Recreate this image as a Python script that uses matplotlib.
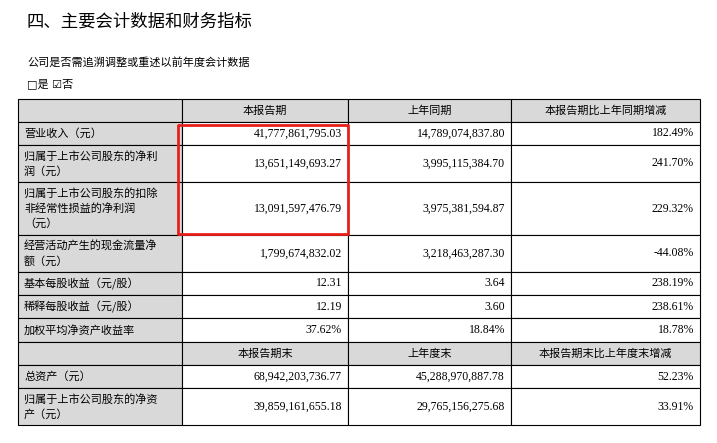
import matplotlib.pyplot as plt
from matplotlib.patches import Rectangle

plt.rcParams['font.family'] = ['Noto Sans CJK SC', 'DejaVu Sans']

title = '四、主要会计数据和财务指标'
subtitle = '公司是否需追溯调整或重述以前年度会计数据'
choice = '□是 ☑否'

header1 = ['', '本报告期', '上年同期', '本报告期比上年同期增减']
header2 = ['', '本报告期末', '上年度末', '本报告期末比上年度末增减']
labels1 = ['营业收入（元）', '归属于上市公司股东的净利\n润（元）',
           '归属于上市公司股东的扣除\n非经常性损益的净利润\n（元）',
           '经营活动产生的现金流量净\n额（元）', '基本每股收益（元/股）',
           '稀释每股收益（元/股）', '加权平均净资产收益率']
current1 = ['41,777,861,795.03', '13,651,149,693.27', '13,091,597,476.79',
            '1,799,674,832.02', '12.31', '12.19', '37.62%']
prior1 = ['14,789,074,837.80', '3,995,115,384.70', '3,975,381,594.87',
          '3,218,463,287.30', '3.64', '3.60', '18.84%']
change1 = ['182.49%', '241.70%', '229.32%', '-44.08%', '238.19%', '238.61%', '18.78%']
labels2 = ['总资产（元）', '归属于上市公司股东的净资\n产（元）']
current2 = ['68,942,203,736.77', '39,859,161,655.18']
prior2 = ['45,288,970,887.78', '29,765,156,275.68']
change2 = ['52.23%', '33.91%']

cols = [18, 182, 348, 511, 700]
row_edges = [99, 122, 145, 182, 235, 272, 295, 318, 342, 365, 388, 425]

fig = plt.figure(figsize=(7.17, 4.43), dpi=100)
ax = fig.add_axes([0, 0, 1, 1])
ax.set_xlim(0, 717)
ax.set_ylim(443, 0)
ax.axis('off')

ax.text(27, 22, title, fontsize=12.5, va='center', ha='left')
ax.text(27, 62, subtitle, fontsize=8, va='center', ha='left')
ax.text(27, 84, choice, fontsize=8, va='center', ha='left',
        family=['DejaVu Sans', 'Noto Sans CJK SC'])

rows = [header1] + [[l, a, b, c] for l, a, b, c in zip(labels1, current1, prior1, change1)] \
    + [header2] + [[l, a, b, c] for l, a, b, c in zip(labels2, current2, prior2, change2)]
gray = '#d9d9d9'
for i, row in enumerate(rows):
    y0, y1 = row_edges[i], row_edges[i + 1]
    is_header = row[0] == ''
    for j in range(4):
        x0, x1 = cols[j], cols[j + 1]
        fc = gray if (is_header or j == 0) else 'white'
        ax.add_patch(Rectangle((x0, y0), x1 - x0, y1 - y0, fc=fc, ec='black', lw=0.8))
        txt = row[j]
        if not txt:
            continue
        yc = (y0 + y1) / 2
        if is_header:
            ax.text((x0 + x1) / 2, yc, txt, fontsize=8, ha='center', va='center')
        elif j == 0:
            ax.text(x0 + 6, yc, txt, fontsize=8, ha='left', va='center', linespacing=1.5)
        else:
            ax.text(x1 - 6, yc, txt, fontsize=8.5, ha='right', va='center',
                    family=['Liberation Serif'])

ax.add_patch(Rectangle((178, 125), 170, 109, fc='none', ec='#e8201c', lw=2, joinstyle='round'))

fig.savefig('out.png', dpi=100)
